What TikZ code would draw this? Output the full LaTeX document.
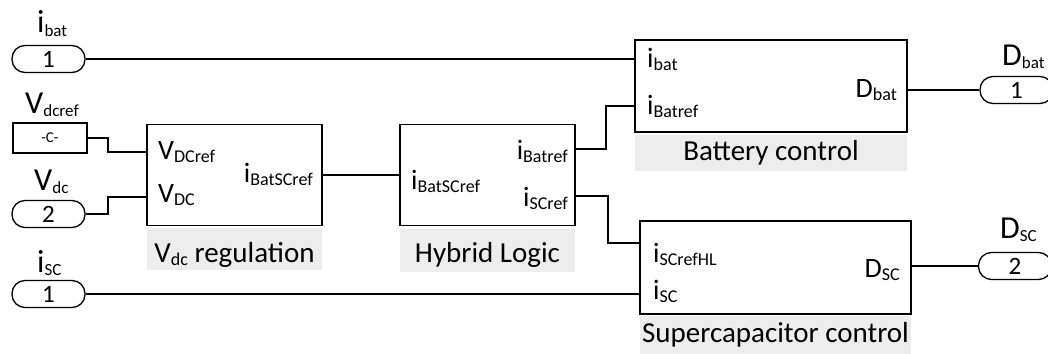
\documentclass[tikz,border=0pt]{standalone}
\usepackage{fontspec}
\setmainfont{Carlito}
\newcommand\sbs[1]{\raisebox{-3.5pt}{\fontsize{18}{18}\selectfont #1}}
\newcommand\sbp[1]{\raisebox{-3.5pt}{\fontsize{17}{17}\selectfont #1}}
\tikzset{
  wire/.style={line width=1.3pt},
  blk/.style={draw, line width=1.6pt, rectangle, inner sep=0pt},
  capbox/.style={fill=black!7, draw=none, inner sep=0pt},
  port/.style={draw, line width=1.3pt, rectangle, rounded corners=13pt, minimum width=73pt, minimum height=27pt, inner sep=0pt, font=\fontsize{25}{25}\selectfont},
  lab/.style={inner sep=0pt, font=\fontsize{28}{30}\selectfont},
  plab/.style={inner sep=0pt, font=\fontsize{32}{34}\selectfont},
  captxt/.style={inner sep=0pt, font=\fontsize{29}{31}\selectfont},
}
\begin{document}
\begin{tikzpicture}[x=1pt,y=-1pt]
\useasboundingbox (0,0) rectangle (1048,353);
\clip (0,0) rectangle (1048,353);
% caption backgrounds
\node[capbox, minimum width=175pt, minimum height=42pt] (vrcap) at (234.5,249) {};
\node[capbox, minimum width=175pt, minimum height=43pt] (hlcap) at (487.5,250) {};
\node[capbox, minimum width=272pt, minimum height=36pt] (bccap) at (771,153) {};
\node[capbox, minimum width=271pt, minimum height=40pt] (sccap) at (775.5,336) {};
% blocks
\node[blk, minimum width=175pt, minimum height=101pt] (vr) at (234.5,175) {};
\node[blk, minimum width=175pt, minimum height=101pt] (hl) at (487.5,175) {};
\node[blk, minimum width=272pt, minimum height=92pt] (bc) at (771,86) {};
\node[blk, minimum width=271pt, minimum height=93pt] (sc) at (775.5,267.5) {};
% ports
\node[port] (pibat) at (48.5,59) {1};
\node[draw, line width=1.3pt, minimum width=74pt, minimum height=30pt, inner sep=0pt, font=\fontsize{15}{15}\selectfont] (cvdc) at (50,138) {-C-};
\node[port] (pvdc) at (48.5,214) {2};
\node[port] (pisc) at (48.5,294) {1};
\node[port] (pdbat) at (1016.5,90) {1};
\node[port] (pdsc) at (1015,266) {2};
% port labels
\node[plab, anchor=base west] (libat) at (37,33) {i\sbp{bat}};
\node[plab, anchor=base west] (lvdcref) at (25,113) {V\sbp{dcref}};
\node[plab, anchor=base west] (lvdc) at (34,190) {V\sbp{dc}};
\node[plab, anchor=base west] (lisc) at (37,272) {i\sbp{SC}};
\node[plab, anchor=base west] (ldbat) at (1002,65) {D\sbp{bat}};
\node[plab, anchor=base west] (ldsc) at (1000,238) {D\sbp{SC}};
% block texts
\node[lab, anchor=base west] (t1) at (158,159) {V\sbs{DCref}};
\node[lab, anchor=base west] (t2) at (158,202) {V\sbs{DC}};
\node[lab, anchor=base east] (t3) at (313,182) {i\sbs{BatSCref}};
\node[lab, anchor=base west] (t4) at (411,189) {i\sbs{BatSCref}};
\node[lab, anchor=base east] (t5) at (568,159) {i\sbs{Batref}};
\node[lab, anchor=base east] (t6) at (568,206) {i\sbs{SCref}};
\node[lab, anchor=base west] (t7) at (647,67) {i\sbs{bat}};
\node[lab, anchor=base west] (t8) at (647,114) {i\sbs{Batref}};
\node[lab, anchor=base east] (t9) at (897,97) {D\sbs{bat}};
\node[lab, anchor=base west] (t10) at (653,262) {i\sbs{SCrefHL}};
\node[lab, anchor=base west] (t11) at (653,299) {i\sbs{SC}};
\node[lab, anchor=base east] (t12) at (900,277) {D\sbs{SC}};
% captions
\node[captxt, anchor=base] (c1) at (234.5,262) {V\sbs{dc} regulation};
\node[captxt, anchor=base] (c2) at (487.5,262) {Hybrid Logic};
\node[captxt, anchor=base] (c3) at (771,160) {Battery control};
\node[captxt, anchor=base] (c4) at (775.5,342) {Supercapacitor control};
% connectors
\coordinate (a1) at (108,138);
\coordinate (a2) at (108,152);
\coordinate (b1) at (108,214);
\coordinate (b2) at (108,197);
\coordinate (h1) at (606,149);
\coordinate (h2) at (606,106);
\coordinate (s1) at (608,196);
\coordinate (s2) at (608,243);
\draw[wire] (pibat.east) -- (bc.west |- pibat.east);
\draw[wire] (cvdc.east) -- (a1) -- (a2) -- (vr.west |- a2);
\draw[wire] (pvdc.east) -- (b1) -- (b2) -- (vr.west |- b2);
\draw[wire] (vr.east) -- (hl.west);
\draw[wire] (hl.east |- h1) -- (h1) -- (h2) -- (bc.west |- h2);
\draw[wire] (hl.east |- s1) -- (s1) -- (s2) -- (sc.west |- s2);
\draw[wire] (pisc.east) -- (sc.west |- pisc.east);
\draw[wire] (bc.east |- pdbat.west) -- (pdbat.west);
\draw[wire] (sc.east |- pdsc.west) -- (pdsc.west);
\end{tikzpicture}
\end{document}
